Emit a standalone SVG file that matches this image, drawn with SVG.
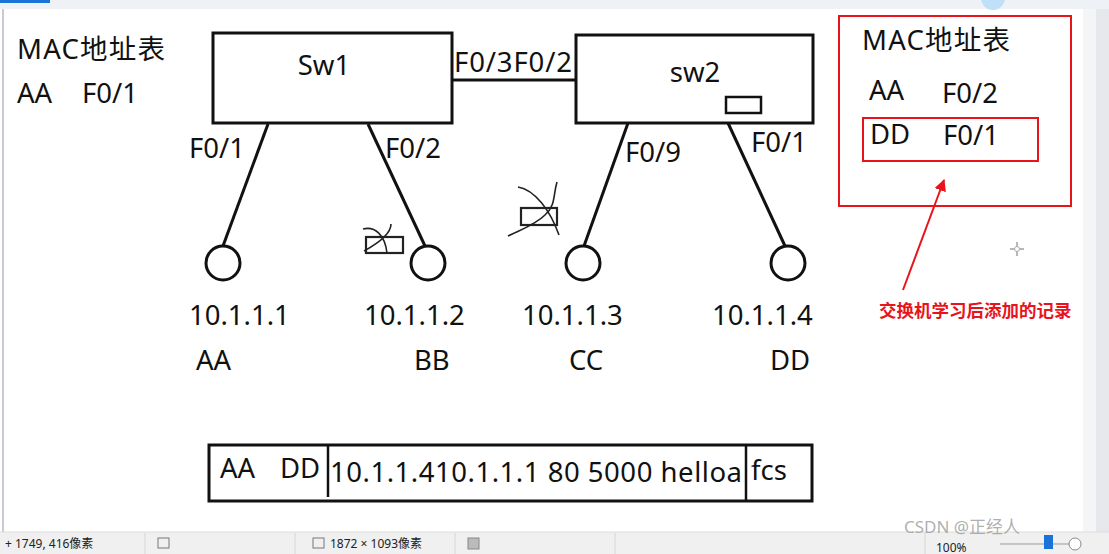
<svg xmlns="http://www.w3.org/2000/svg" width="1109" height="554" viewBox="0 0 1109 554">
<style>
.t{font-family:"Noto Sans","Noto Sans CJK SC",sans-serif;font-size:27.5px;fill:#111}
.box{fill:#fff;stroke:#111;stroke-width:3}
.ln{stroke:#111;stroke-width:3;fill:none}
.host{fill:#fff;stroke:#111;stroke-width:3}
.red{fill:none;stroke:#e8141c;stroke-width:2}
.scr{stroke:#222;stroke-width:1.6;fill:none}
.ui{font-family:"Noto Sans","Noto Sans CJK SC",sans-serif;font-size:12px;fill:#222}
</style>
<defs>
<marker id="ah" viewBox="0 0 10 10" refX="9" refY="5" markerWidth="6" markerHeight="6" orient="auto"><path d="M0,0 L10,5 L0,10 z" fill="#e8141c"/></marker>
</defs>
<rect x="0" y="0" width="1109" height="554" fill="#fff"/>
<!-- window chrome -->
<g id="chrome">
<rect x="0" y="0" width="1109" height="9" fill="#eef1f5"/>
<rect x="0" y="0" width="50" height="3" fill="#1a73d9"/>
<line x1="3" y1="9" x2="3" y2="532" stroke="#c8ccd2" stroke-width="2"/>
<rect x="1096" y="9" width="13" height="523" fill="#e6e8eb"/>
<rect x="1083" y="9" width="13" height="523" fill="#f4f5f7"/>
<circle cx="993" cy="-2" r="12" fill="#bfe0f7"/>
<rect x="0" y="532" width="1109" height="22" fill="#f0f0f0"/>
<line x1="0" y1="532" x2="1109" y2="532" stroke="#dcdcdc"/>
<line x1="145" y1="533" x2="145" y2="554" stroke="#d6d6d6"/>
<line x1="295" y1="533" x2="295" y2="554" stroke="#d6d6d6"/>
<line x1="455" y1="533" x2="455" y2="554" stroke="#d6d6d6"/>
<line x1="615" y1="533" x2="615" y2="554" stroke="#d6d6d6"/>
<line x1="925" y1="533" x2="925" y2="554" stroke="#d6d6d6"/>
<text class="ui" x="5" y="548">+ 1749, 416像素</text>
<rect x="158" y="538" width="11" height="10" fill="none" stroke="#777"/>
<rect x="313" y="538" width="11" height="10" fill="none" stroke="#777"/>
<text class="ui" x="330" y="548">1872 × 1093像素</text>
<rect x="468" y="538" width="11" height="11" fill="#bbb" stroke="#888"/>
<text class="ui" x="936" y="552" font-size="10">100%</text>
<line x1="1000" y1="544" x2="1080" y2="544" stroke="#999"/>
<rect x="1044" y="535" width="9" height="14" fill="#1a73d9"/>
<circle cx="1075" cy="544" r="6" fill="#fff" stroke="#888"/>
<text x="962" y="533" font-family="'Noto Sans','Noto Sans CJK SC',sans-serif" font-size="17" fill="#9a9a9a" fill-opacity="0.8" text-anchor="middle">CSDN @正经人</text>
<g stroke="#888" stroke-width="1.2"><line x1="1017" y1="242" x2="1017" y2="256"/><line x1="1010" y1="249" x2="1024" y2="249"/></g>
<circle cx="1017" cy="249" r="2.5" fill="#fff" stroke="#aaa"/>
</g>
<!-- left MAC table -->
<g id="mac1">
<text class="t" x="17" y="59" textLength="148">MAC地址表</text>
<text class="t" x="17" y="103">AA</text>
<text class="t" x="82" y="103">F0/1</text>
</g>
<!-- connectors -->
<g id="connectors">
<line class="ln" x1="452" y1="80" x2="576" y2="80"/>
<line class="ln" x1="268" y1="124" x2="223" y2="246"/>
<line class="ln" x1="368" y1="124" x2="425" y2="246"/>
<line class="ln" x1="628" y1="123" x2="584" y2="246"/>
<line class="ln" x1="728" y1="123" x2="785" y2="246"/>
<text class="t" x="454" y="72" textLength="118">F0/3F0/2</text>
<text class="t" x="189" y="158">F0/1</text>
<text class="t" x="385" y="158">F0/2</text>
<text class="t" x="625" y="162">F0/9</text>
<text class="t" x="751" y="152">F0/1</text>
</g>
<g id="sw1">
<rect class="box" x="213" y="33" width="239" height="90"/>
<text class="t" x="324" y="75" text-anchor="middle">Sw1</text>
</g>
<g id="sw2">
<rect class="box" x="576" y="35" width="237" height="88"/>
<text class="t" x="695" y="82" text-anchor="middle">sw2</text>
<rect x="726" y="97" width="35" height="16" fill="#fff" stroke="#111" stroke-width="2.5"/>
</g>
<g id="hostA">
<circle class="host" cx="223" cy="263" r="17"/>
<text class="t" x="189" y="325">10.1.1.1</text>
<text class="t" x="196" y="370">AA</text>
</g>
<g id="hostB">
<circle class="host" cx="428" cy="263" r="17"/>
<text class="t" x="364" y="325">10.1.1.2</text>
<text class="t" x="414" y="370">BB</text>
<rect x="366" y="237" width="37" height="16" fill="none" stroke="#222" stroke-width="2.2"/>
<path class="scr" d="M363,229 C375,226 385,235 387,253"/>
<path class="scr" d="M391,224 C391,235 375,245 364,251"/>
</g>
<g id="hostC">
<circle class="host" cx="583" cy="263" r="17"/>
<text class="t" x="522" y="325">10.1.1.3</text>
<text class="t" x="569" y="370">CC</text>
<rect x="521" y="208" width="36" height="17" fill="none" stroke="#222" stroke-width="2.2"/>
<path class="scr" d="M518,187 C535,190 550,210 559,235"/>
<path class="scr" d="M557,182 C553,195 556,205 545,215 C535,225 520,230 508,236"/>
</g>
<g id="hostD">
<circle class="host" cx="788" cy="263" r="17"/>
<text class="t" x="712" y="325">10.1.1.4</text>
<text class="t" x="770" y="370">DD</text>
</g>
<!-- right MAC table -->
<g id="mac2">
<rect class="red" x="839" y="16" width="232" height="190"/>
<text class="t" x="862" y="50" textLength="148">MAC地址表</text>
<text class="t" x="869" y="100">AA</text>
<text class="t" x="942" y="103">F0/2</text>
<rect class="red" x="863" y="118" width="175" height="43"/>
<text class="t" x="870" y="144">DD</text>
<text class="t" x="943" y="145">F0/1</text>
</g>
<g id="note">
<line x1="903" y1="290" x2="944" y2="180" stroke="#e8141c" stroke-width="2" marker-end="url(#ah)"/>
<text x="879" y="317" font-family="'Noto Sans CJK SC',sans-serif" font-weight="bold" font-size="17.5" fill="#e8141c">交换机学习后添加的记录</text>
</g>
<!-- frame -->
<g id="frame">
<rect x="209" y="445" width="603" height="56" fill="none" stroke="#111" stroke-width="3"/>
<line x1="328" y1="445" x2="328" y2="497" stroke="#111" stroke-width="2.5"/>
<line x1="746" y1="445" x2="746" y2="501" stroke="#111" stroke-width="2.5"/>
<text class="t" x="220" y="478">AA</text>
<text class="t" x="280" y="478">DD</text>
<text class="t" x="330" y="482" textLength="412">10.1.1.410.1.1.1  80 5000 helloa</text>
<text class="t" x="751" y="480">fcs</text>
</g>
</svg>
